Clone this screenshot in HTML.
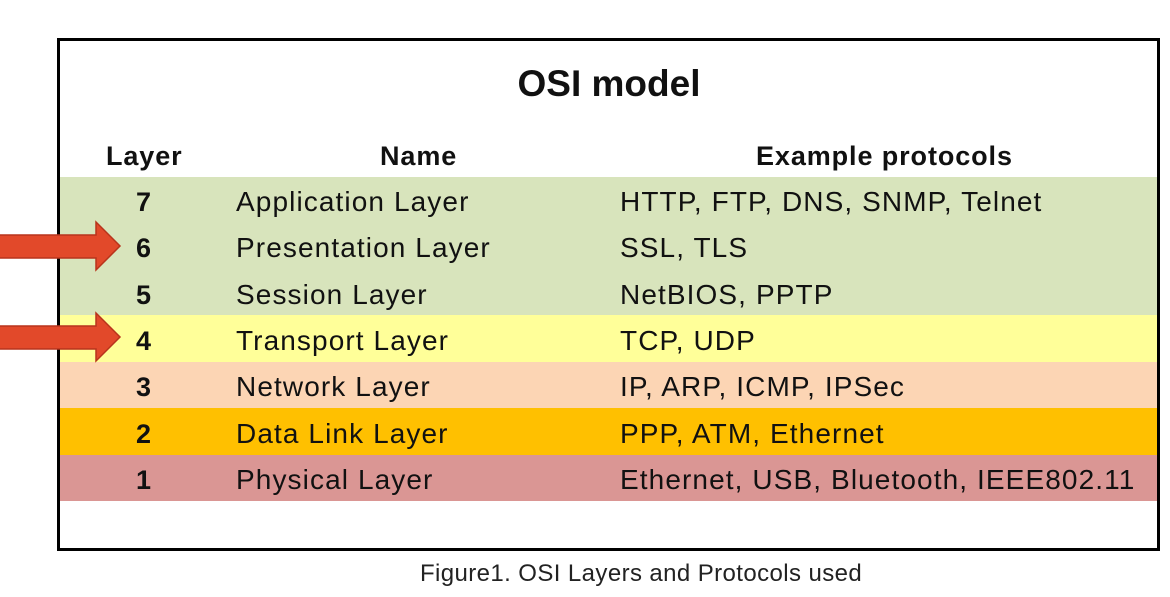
<!DOCTYPE html>
<html><head><style>
body{margin:0;width:1170px;height:597px;background:#fff;position:relative;font-family:"Liberation Sans",sans-serif;overflow:hidden}
.box{position:absolute;left:57px;top:38px;width:1097px;height:507px;border:3px solid #000;background:#fff}
.t{position:absolute;white-space:nowrap;color:#111}
.row{position:absolute;left:60px;width:1097px}
.c{font-size:28px;letter-spacing:1.1px}
.h{font-size:27px;letter-spacing:0.9px;font-weight:bold}
.n{font-size:27px;font-weight:bold}
</style></head><body>
<div class="box"></div>
<div class="row" style="top:177px;height:138px;background:#d8e4bc"></div>
<div class="row" style="top:315px;height:47px;background:#ffff99"></div>
<div class="row" style="top:362px;height:46px;background:#fcd5b4"></div>
<div class="row" style="top:408px;height:47px;background:#ffc000"></div>
<div class="row" style="top:455px;height:46px;background:#da9694"></div>
<div class="t" style="left:0;width:1218px;text-align:center;top:63px;font-size:37px;font-weight:bold">OSI model</div>
<div class="t h" style="left:106px;top:141px">Layer</div>
<div class="t h" style="left:380px;top:141px">Name</div>
<div class="t h" style="left:756px;top:141px">Example protocols</div>
<div class="t n" style="left:136px;top:187px">7</div>
<div class="t n" style="left:136px;top:233px">6</div>
<div class="t n" style="left:136px;top:280px">5</div>
<div class="t n" style="left:136px;top:326px">4</div>
<div class="t n" style="left:136px;top:372px">3</div>
<div class="t n" style="left:136px;top:419px">2</div>
<div class="t n" style="left:136px;top:465px">1</div>
<div class="t c" style="left:236px;top:186px">Application Layer</div>
<div class="t c" style="left:236px;top:232px">Presentation Layer</div>
<div class="t c" style="left:236px;top:279px">Session Layer</div>
<div class="t c" style="left:236px;top:325px">Transport Layer</div>
<div class="t c" style="left:236px;top:371px">Network Layer</div>
<div class="t c" style="left:236px;top:418px">Data Link Layer</div>
<div class="t c" style="left:236px;top:464px">Physical Layer</div>
<div class="t c" style="left:620px;top:186px">HTTP, FTP, DNS, SNMP, Telnet</div>
<div class="t c" style="left:620px;top:232px">SSL, TLS</div>
<div class="t c" style="left:620px;top:279px">NetBIOS, PPTP</div>
<div class="t c" style="left:620px;top:325px">TCP, UDP</div>
<div class="t c" style="left:620px;top:371px">IP, ARP, ICMP, IPSec</div>
<div class="t c" style="left:620px;top:418px">PPP, ATM, Ethernet</div>
<div class="t c" style="left:620px;top:464px">Ethernet, USB, Bluetooth, IEEE802.11</div>
<svg style="position:absolute;left:0;top:0" width="1170" height="597">
<polygon points="-2,235 96,235 96,222 120,246 96,270 96,258 -2,258" fill="#e2492a" stroke="#b8341c" stroke-width="1.5"/>
<polygon points="-2,326 96,326 96,313 120,337 96,361 96,349 -2,349" fill="#e2492a" stroke="#b8341c" stroke-width="1.5"/>
</svg>
<div class="t" style="left:420px;top:560px;font-size:24px;letter-spacing:0.4px;color:#222">Figure1. OSI Layers and Protocols used</div>
</body></html>
